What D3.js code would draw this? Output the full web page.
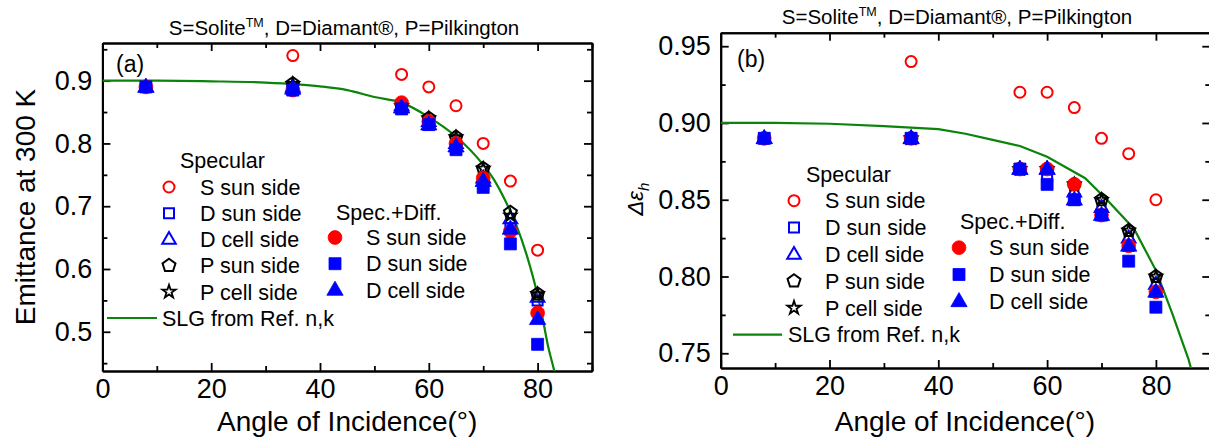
<!DOCTYPE html>
<html>
<head>
<meta charset="utf-8">
<script src="https://cdn.jsdelivr.net/npm/d3@7"></script>
<style>
  html, body { margin: 0; padding: 0; background: #fff; }
  svg { display: block; }
  text { font-family: "Liberation Sans", Arial, sans-serif; fill: #000; }
</style>
</head>
<body>
<svg id="chart" width="1209" height="442"></svg>
<script>
// ---------------- DATA ----------------
const angles = [8, 35, 55, 60, 65, 70, 75, 80];

// Panel (a): Emittance at 300 K
const aSSpecSun   = [null, 0.94, 0.91, 0.89, 0.86, 0.80, 0.74, 0.63];
const aDSpecSun   = [0.89, 0.885, 0.855, 0.83, 0.795, 0.735, 0.665, 0.55];
const aDSpecCell  = [0.89, 0.89, 0.86, 0.835, 0.80, 0.745, 0.68, 0.555];
const aPSpecSun   = [null, 0.895, 0.86, 0.84, 0.81, 0.76, 0.69, 0.56];
const aPSpecCell  = [null, 0.895, 0.86, 0.84, 0.81, 0.76, 0.685, 0.56];
const aSDiffSun   = [0.89, 0.885, 0.865, 0.835, 0.80, 0.745, 0.66, 0.53];
const aDDiffSun   = [0.89, 0.885, 0.855, 0.83, 0.79, 0.73, 0.64, 0.48];
const aDDiffCell  = [0.89, 0.887, 0.857, 0.83, 0.795, 0.74, 0.664, 0.52];
const aSlgAngles  = [0, 10, 20, 30, 40, 45, 50, 55, 60, 65, 70, 72, 74, 76, 78, 80, 81, 82, 83, 84];
const aSlgValues  = [0.900, 0.900, 0.899, 0.897, 0.891, 0.885, 0.874, 0.865, 0.842, 0.811, 0.766, 0.742, 0.710, 0.672, 0.622, 0.558, 0.518, 0.474, 0.440, 0.40];

// Panel (b): Δε_h
const bSSpecSun   = [null, 0.94, 0.92, 0.92, 0.91, 0.89, 0.88, 0.85];
const bDSpecSun   = [0.89, 0.89, 0.87, 0.865, 0.85, 0.84, 0.82, 0.79];
const bDSpecCell  = [0.89, 0.89, 0.87, 0.87, 0.855, 0.845, 0.825, 0.795];
const bPSpecSun   = [null, 0.89, 0.87, 0.87, 0.86, 0.85, 0.83, 0.80];
const bPSpecCell  = [null, 0.89, 0.87, 0.87, 0.86, 0.85, 0.83, 0.80];
const bSDiffSun   = [0.89, 0.89, 0.87, 0.87, 0.86, 0.84, 0.82, 0.79];
const bDDiffSun   = [0.89, 0.89, 0.87, 0.86, 0.85, 0.84, 0.81, 0.78];
const bDDiffCell  = [0.89, 0.89, 0.87, 0.87, 0.85, 0.84, 0.82, 0.79];
const bSlgAngles  = [0, 10, 20, 30, 40, 45, 50, 55, 60, 67, 71, 76, 80, 83, 86, 88];
const bSlgValues  = [0.900, 0.900, 0.8995, 0.898, 0.896, 0.893, 0.889, 0.885, 0.878, 0.864, 0.850, 0.831, 0.804, 0.776, 0.746, 0.72];

// Ticks and labels
const xMajorTicks = [0, 20, 40, 60, 80];
const xMinorTicks = [10, 30, 50, 70, 90];
const aYMajorTicks = [0.5, 0.6, 0.7, 0.8, 0.9];
const aYMinorTicks = [0.45, 0.55, 0.65, 0.75, 0.85, 0.95];
const bYMajorTicks = [0.75, 0.80, 0.85, 0.90, 0.95];
const bYMinorTicks = [0.775, 0.825, 0.875, 0.925];
const specLabels = ["S sun side", "D sun side", "D cell side", "P sun side", "P cell side"];
const diffLabels = ["S sun side", "D sun side", "D cell side"];
const slgLabel = "SLG from Ref. n,k";
const xTitle = "Angle of Incidence(°)";
const aYTitle = "Emittance at 300 K";

// ---------------- STYLE ----------------
const RED = "#ff0000", BLUE = "#0000ff", BLACK = "#000000", GREEN = "#0a840a";

const pentagon = {
  draw(ctx, size) {
    const r = Math.sqrt(size / (2.5 * Math.sin(2 * Math.PI / 5)));
    for (let i = 0; i < 5; i++) {
      const a = -Math.PI / 2 + i * 2 * Math.PI / 5;
      const px = r * Math.cos(a), py = r * Math.sin(a);
      if (i === 0) ctx.moveTo(px, py); else ctx.lineTo(px, py);
    }
    ctx.closePath();
  }
};
const triUp = {
  draw(ctx, size) {
    const s = Math.sqrt(size * 4 / Math.sqrt(3));
    const h = s * Math.sqrt(3) / 2;
    ctx.moveTo(0, -h * 0.62);
    ctx.lineTo(s / 2, h * 0.38);
    ctx.lineTo(-s / 2, h * 0.38);
    ctx.closePath();
  }
};

const svg = d3.select("#chart");

function drawPanel(cfg) {
  const x = d3.scaleLinear().domain([0, 90]).range([cfg.left, cfg.right]);
  const y = d3.scaleLinear().domain(cfg.yDomain).range([cfg.bottom, cfg.top]);
  const g = svg.append("g");

  const clipId = "clip-" + cfg.id;
  svg.append("clipPath").attr("id", clipId).append("rect")
    .attr("x", cfg.left).attr("y", cfg.top)
    .attr("width", cfg.right - cfg.left).attr("height", cfg.bottom - cfg.top);

  const styleAxis = sel => {
    sel.selectAll(".domain").attr("stroke-width", 2);
    sel.selectAll(".tick line").attr("stroke-width", 1.8);
    sel.selectAll("text").attr("font-size", 27).attr("font-family", '"Liberation Sans", Arial, sans-serif');
  };

  // bottom
  g.append("g").attr("transform", `translate(0,${cfg.bottom})`)
    .call(d3.axisBottom(x).tickValues(xMajorTicks).tickSizeInner(-8).tickSizeOuter(0).tickPadding(8).tickFormat(d3.format("d")))
    .call(styleAxis);
  g.append("g").attr("transform", `translate(0,${cfg.bottom})`)
    .call(d3.axisBottom(x).tickValues(xMinorTicks).tickSizeInner(-5).tickSizeOuter(0).tickFormat(""))
    .call(styleAxis);
  // top
  g.append("g").attr("transform", `translate(0,${cfg.top})`)
    .call(d3.axisTop(x).tickValues(xMajorTicks).tickSizeInner(-8).tickSizeOuter(0).tickFormat(""))
    .call(styleAxis);
  g.append("g").attr("transform", `translate(0,${cfg.top})`)
    .call(d3.axisTop(x).tickValues(xMinorTicks).tickSizeInner(-5).tickSizeOuter(0).tickFormat(""))
    .call(styleAxis);
  // left
  g.append("g").attr("transform", `translate(${cfg.left},0)`)
    .call(d3.axisLeft(y).tickValues(cfg.yMajor).tickSizeInner(-8).tickSizeOuter(0).tickPadding(10).tickFormat(d3.format(cfg.yFormat)))
    .call(styleAxis);
  g.append("g").attr("transform", `translate(${cfg.left},0)`)
    .call(d3.axisLeft(y).tickValues(cfg.yMinor).tickSizeInner(-5).tickSizeOuter(0).tickFormat(""))
    .call(styleAxis);
  // right
  g.append("g").attr("transform", `translate(${cfg.right},0)`)
    .call(d3.axisRight(y).tickValues(cfg.yMajor).tickSizeInner(-8).tickSizeOuter(0).tickFormat(""))
    .call(styleAxis);
  g.append("g").attr("transform", `translate(${cfg.right},0)`)
    .call(d3.axisRight(y).tickValues(cfg.yMinor).tickSizeInner(-5).tickSizeOuter(0).tickFormat(""))
    .call(styleAxis);

  // SLG curve
  const line = d3.line().x(d => x(d[0])).y(d => y(d[1])).curve(cfg.curve);
  g.append("path")
    .datum(d3.zip(cfg.slgAngles, cfg.slgValues))
    .attr("clip-path", `url(#${clipId})`)
    .attr("d", line)
    .attr("fill", "none").attr("stroke", GREEN).attr("stroke-width", 2.2);

  // series markers
  cfg.series.forEach(s => {
    const pts = angles.map((a, i) => [a, s.values[i]]).filter(d => d[1] != null);
    g.append("g").selectAll("path").data(pts).join("path")
      .attr("transform", d => `translate(${x(d[0])},${y(d[1])})`)
      .attr("d", d3.symbol().type(s.type).size(s.size))
      .attr("fill", s.filled ? s.color : "none")
      .attr("stroke", s.color)
      .attr("stroke-width", s.filled ? 0.8 : s.sw);
  });

  // panel label
  g.append("text").attr("x", cfg.labelX).attr("y", cfg.labelY)
    .attr("font-size", 23).text(cfg.label);

  // top title
  const t = g.append("text").attr("x", cfg.titleX).attr("y", cfg.titleY)
    .attr("text-anchor", "middle").attr("font-size", 20.5);
  t.append("tspan").text("S=Solite");
  t.append("tspan").attr("font-size", 12.5).attr("dy", -8).text("TM");
  t.append("tspan").attr("dy", 8).text(", D=Diamant®, P=Pilkington");

  // x title
  g.append("text").attr("x", (cfg.left + Math.min(cfg.right, 1209)) / 2 + cfg.xTitleShift).attr("y", 431)
    .attr("text-anchor", "middle").attr("font-size", 28).text(xTitle);

  // legend
  const L = cfg.legend;
  g.append("text").attr("x", L.specHeadX).attr("y", L.specHeadY).attr("dy", "0.36em")
    .attr("font-size", 21.5).text("Specular");
  cfg.series.slice(0, 5).forEach((s, i) => {
    const yy = L.specY0 + i * L.rowH;
    g.append("path").attr("transform", `translate(${L.specMarkX},${yy})`)
      .attr("d", d3.symbol().type(s.type).size(s.legSize || s.size))
      .attr("fill", "none").attr("stroke", s.color).attr("stroke-width", s.sw);
    g.append("text").attr("x", L.specTextX).attr("y", yy).attr("dy", "0.36em")
      .attr("font-size", 21.5).text(specLabels[i]);
  });
  const slgY = L.specY0 + 5 * L.rowH;
  g.append("line").attr("x1", L.lineX1).attr("x2", L.lineX2).attr("y1", slgY).attr("y2", slgY)
    .attr("stroke", GREEN).attr("stroke-width", 2.2);
  g.append("text").attr("x", L.lineTextX).attr("y", slgY).attr("dy", "0.36em")
    .attr("font-size", 21.5).text(slgLabel);

  g.append("text").attr("x", L.diffHeadX).attr("y", L.diffHeadY).attr("dy", "0.36em")
    .attr("font-size", 21.5).text("Spec.+Diff.");
  cfg.series.slice(5, 8).forEach((s, i) => {
    const yy = L.diffY0 + i * L.rowH;
    g.append("path").attr("transform", `translate(${L.diffMarkX},${yy})`)
      .attr("d", d3.symbol().type(s.type).size(s.size))
      .attr("fill", s.color).attr("stroke", s.color).attr("stroke-width", 0.8);
    g.append("text").attr("x", L.diffTextX).attr("y", yy).attr("dy", "0.36em")
      .attr("font-size", 21.5).text(diffLabels[i]);
  });
  return { x, y, g };
}

function seriesFor(v) {
  return [
    { values: v[0], type: d3.symbolCircle, size: 95, color: RED, filled: false, sw: 2 },
    { values: v[1], type: d3.symbolSquare, size: 100, color: BLUE, filled: false, sw: 2 },
    { values: v[2], type: triUp, size: 80, color: BLUE, filled: false, sw: 2 },
    { values: v[3], type: pentagon, size: 110, color: BLACK, filled: false, sw: 2 },
    { values: v[4], type: d3.symbolStar, size: 42, legSize: 55, color: BLACK, filled: false, sw: 1.8 },
    { values: v[5], type: d3.symbolCircle, size: 150, color: RED, filled: true },
    { values: v[6], type: d3.symbolSquare, size: 144, color: BLUE, filled: true },
    { values: v[7], type: triUp, size: 115, color: BLUE, filled: true }
  ];
}

const sa = seriesFor([aSSpecSun, aDSpecSun, aDSpecCell, aPSpecSun, aPSpecCell, aSDiffSun, aDDiffSun, aDDiffCell]);
const sb = seriesFor([bSSpecSun, bDSpecSun, bDSpecCell, bPSpecSun, bPSpecCell, bSDiffSun, bDDiffSun, bDDiffCell]);

drawPanel({
  id: "a", left: 102.4, right: 592, top: 43, bottom: 371, yDomain: [0.4375, 0.96],
  yMajor: aYMajorTicks, yMinor: aYMinorTicks, yFormat: ".1f",
  slgAngles: aSlgAngles, slgValues: aSlgValues, curve: d3.curveMonotoneX,
  series: sa, label: "(a)", labelX: 116, labelY: 72,
  titleX: 344, titleY: 35, xTitleShift: 0,
  legend: { specHeadX: 180, specHeadY: 160, specY0: 187, rowH: 26.2, specMarkX: 169, specTextX: 200,
            lineX1: 107, lineX2: 157, lineTextX: 162,
            diffHeadX: 336, diffHeadY: 212, diffY0: 237.5, diffMarkX: 335, diffTextX: 366 }
});

drawPanel({
  id: "b", left: 720.7, right: 1210.3, top: 32.7, bottom: 368, yDomain: [0.7404, 0.9588],
  yMajor: bYMajorTicks, yMinor: bYMinorTicks, yFormat: ".2f",
  slgAngles: bSlgAngles, slgValues: bSlgValues, curve: d3.curveLinear,
  series: sb, label: "(b)", labelX: 737, labelY: 67,
  titleX: 957, titleY: 24, xTitleShift: 0,
  legend: { specHeadX: 806, specHeadY: 174, specY0: 200.7, rowH: 26.8, specMarkX: 794, specTextX: 825,
            lineX1: 733, lineX2: 782, lineTextX: 788,
            diffHeadX: 960, diffHeadY: 221.7, diffY0: 247.7, diffMarkX: 959, diffTextX: 989 }
});

// y titles
svg.append("text").attr("transform", "translate(35,207) rotate(-90)")
  .attr("text-anchor", "middle").attr("font-size", 28).text(aYTitle);

const dt = svg.append("text").attr("transform", "translate(643,199) rotate(-90)")
  .attr("text-anchor", "middle").attr("font-size", 22).attr("font-style", "italic");
dt.append("tspan").text("Δε");
dt.append("tspan").attr("font-size", 15).attr("dy", 6).text("h");
</script>
</body>
</html>
